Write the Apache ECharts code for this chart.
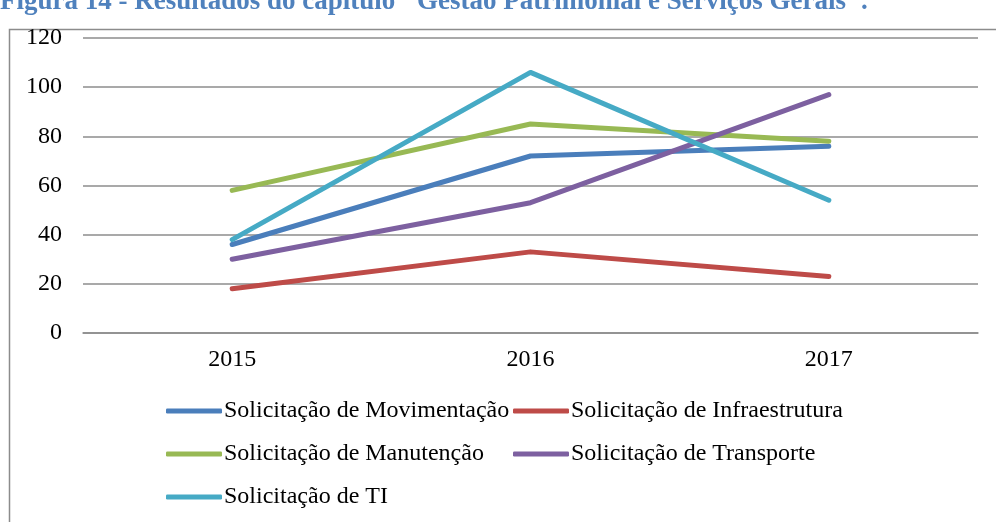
<!DOCTYPE html>
<html>
<head>
<meta charset="utf-8">
<script src="https://cdn.jsdelivr.net/npm/echarts@6/dist/echarts.min.js"></script>
<style>
  html, body { margin: 0; padding: 0; background: #fff; }
  #chart-container { width: 996px; height: 522px; }
</style>
</head>
<body>
<div id="chart-container"></div>
<script>
var years = ['2015', '2016', '2017'];
var movimentacao = [36, 72, 76];
var infraestrutura = [18, 33, 23];
var manutencao = [58, 85, 78];
var transporte = [30, 53, 97];
var ti = [38, 106, 54];

var names = [
  'Solicitação de Movimentação',
  'Solicitação de Infraestrutura',
  'Solicitação de Manutenção',
  'Solicitação de Transporte',
  'Solicitação de TI'
];
var colors = ['#4A7EBB', '#BE4B48', '#98B954', '#7D60A0', '#46AAC5'];
var values = [movimentacao, infraestrutura, manutencao, transporte, ti];

var dom = document.getElementById('chart-container');
var myChart = echarts.init(dom, null, { renderer: 'canvas' });

var font = '"Liberation Serif", "Times New Roman", serif';

var legendBase = {
  orient: 'vertical',
  icon: 'roundRect',
  itemWidth: 56,
  itemHeight: 5,
  itemGap: 17,
  textStyle: { fontFamily: font, fontSize: 24, color: '#000', lineHeight: 26, padding: [0, 0, 0, -3] },
  padding: 0
};

var option = {
  animation: false,
  color: colors,
  graphic: [
    {
      type: 'rect',
      left: 7,
      top: 27,
      shape: { width: 1100, height: 600 },
      style: { fill: 'none', stroke: '#8c8c8c', lineWidth: 1.5 }
    },
    {
      type: 'text',
      left: 0,
      top: -11,
      style: {
        text: 'Figura 14 - Resultados do capítulo "Gestão Patrimonial e Serviços Gerais".',
        font: 'bold 27px ' + font,
        fill: '#4F81BD'
      }
    }
  ],
  grid: { left: 83, right: 18, top: 38, bottom: 189 },
  legend: [
    Object.assign({}, legendBase, {
      left: 166, top: 398,
      data: [names[0], names[2], names[4]]
    }),
    Object.assign({}, legendBase, {
      left: 513, top: 398,
      data: [names[1], names[3]]
    })
  ],
  xAxis: {
    type: 'category',
    data: years,
    boundaryGap: true,
    axisLine: { show: true, lineStyle: { color: '#8c8c8c', width: 1.5 } },
    axisTick: { show: false },
    axisLabel: { fontFamily: font, fontSize: 24, color: '#000', margin: 15 }
  },
  yAxis: {
    type: 'value',
    min: 0,
    max: 120,
    interval: 20,
    axisLine: { show: false },
    axisTick: { show: false },
    axisLabel: { fontFamily: font, fontSize: 24, color: '#000', margin: 21 },
    splitLine: { lineStyle: { color: '#8c8c8c', width: 1.5 } }
  },
  series: names.map(function (n, i) {
    return {
      name: n,
      type: 'line',
      data: values[i],
      symbol: 'none',
      lineStyle: { width: 5, color: colors[i], cap: 'round', join: 'round' },
      itemStyle: { color: colors[i] }
    };
  })
};

myChart.setOption(option);
window.addEventListener('resize', myChart.resize);
</script>
</body>
</html>
